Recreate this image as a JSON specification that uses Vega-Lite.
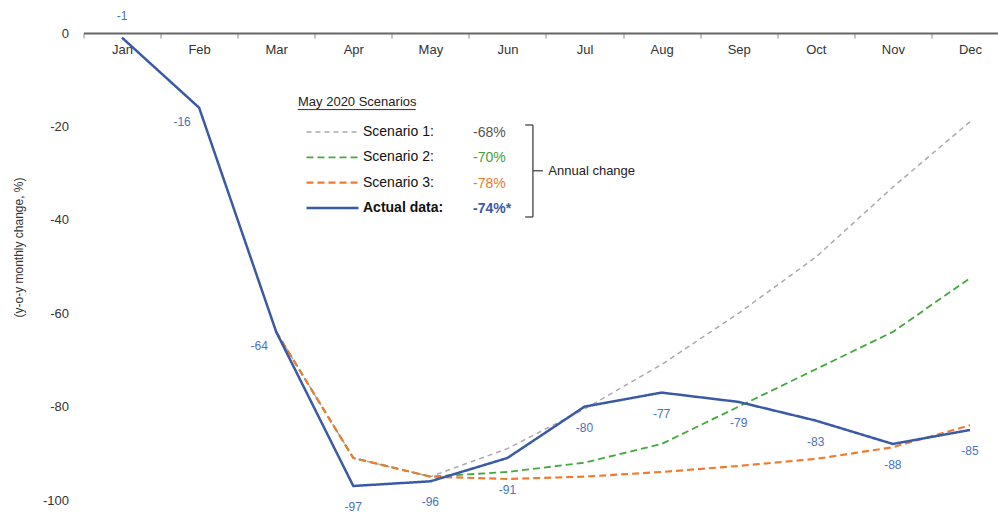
{
  "$schema": "https://vega.github.io/schema/vega-lite/v6.json",
  "width": 914.5,
  "height": 467,
  "autosize": "none",
  "padding": {"left": 83.5, "top": 33, "right": 0, "bottom": 23},
  "background": "white",
  "config": {"font": "Liberation Sans", "view": {"stroke": null}},
  "datasets": {
    "lines": [
      {"month": "Mar", "series": "Scenario 1", "value": -64, "annual": "-68%"},
      {"month": "Apr", "series": "Scenario 1", "value": -91, "annual": "-68%"},
      {"month": "May", "series": "Scenario 1", "value": -95, "annual": "-68%"},
      {"month": "Jun", "series": "Scenario 1", "value": -89, "annual": "-68%"},
      {"month": "Jul", "series": "Scenario 1", "value": -80.5, "annual": "-68%"},
      {"month": "Aug", "series": "Scenario 1", "value": -71, "annual": "-68%"},
      {"month": "Sep", "series": "Scenario 1", "value": -60, "annual": "-68%"},
      {"month": "Oct", "series": "Scenario 1", "value": -48, "annual": "-68%"},
      {"month": "Nov", "series": "Scenario 1", "value": -33, "annual": "-68%"},
      {"month": "Dec", "series": "Scenario 1", "value": -19, "annual": "-68%"},
      {"month": "Mar", "series": "Scenario 2", "value": -64, "annual": "-70%"},
      {"month": "Apr", "series": "Scenario 2", "value": -91, "annual": "-70%"},
      {"month": "May", "series": "Scenario 2", "value": -95, "annual": "-70%"},
      {"month": "Jun", "series": "Scenario 2", "value": -94, "annual": "-70%"},
      {"month": "Jul", "series": "Scenario 2", "value": -92, "annual": "-70%"},
      {"month": "Aug", "series": "Scenario 2", "value": -88, "annual": "-70%"},
      {"month": "Sep", "series": "Scenario 2", "value": -80, "annual": "-70%"},
      {"month": "Oct", "series": "Scenario 2", "value": -72, "annual": "-70%"},
      {"month": "Nov", "series": "Scenario 2", "value": -64, "annual": "-70%"},
      {"month": "Dec", "series": "Scenario 2", "value": -52.5, "annual": "-70%"},
      {"month": "Mar", "series": "Scenario 3", "value": -64, "annual": "-78%"},
      {"month": "Apr", "series": "Scenario 3", "value": -91, "annual": "-78%"},
      {"month": "May", "series": "Scenario 3", "value": -95, "annual": "-78%"},
      {"month": "Jun", "series": "Scenario 3", "value": -95.5, "annual": "-78%"},
      {"month": "Jul", "series": "Scenario 3", "value": -95, "annual": "-78%"},
      {"month": "Aug", "series": "Scenario 3", "value": -94, "annual": "-78%"},
      {"month": "Sep", "series": "Scenario 3", "value": -92.7, "annual": "-78%"},
      {"month": "Oct", "series": "Scenario 3", "value": -91.2, "annual": "-78%"},
      {"month": "Nov", "series": "Scenario 3", "value": -88.7, "annual": "-78%"},
      {"month": "Dec", "series": "Scenario 3", "value": -84, "annual": "-78%"},
      {"month": "Jan", "series": "Actual data", "value": -1, "annual": "-74%*"},
      {"month": "Feb", "series": "Actual data", "value": -16, "annual": "-74%*"},
      {"month": "Mar", "series": "Actual data", "value": -64, "annual": "-74%*"},
      {"month": "Apr", "series": "Actual data", "value": -97, "annual": "-74%*"},
      {"month": "May", "series": "Actual data", "value": -96, "annual": "-74%*"},
      {"month": "Jun", "series": "Actual data", "value": -91, "annual": "-74%*"},
      {"month": "Jul", "series": "Actual data", "value": -80, "annual": "-74%*"},
      {"month": "Aug", "series": "Actual data", "value": -77, "annual": "-74%*"},
      {"month": "Sep", "series": "Actual data", "value": -79, "annual": "-74%*"},
      {"month": "Oct", "series": "Actual data", "value": -83, "annual": "-74%*"},
      {"month": "Nov", "series": "Actual data", "value": -88, "annual": "-74%*"},
      {"month": "Dec", "series": "Actual data", "value": -85, "annual": "-74%*"}
    ]
  },
  "layer": [
    {
      "data": {"name": "lines"},
      "encoding": {
        "x": {
          "field": "month",
          "type": "ordinal",
          "bandPosition": 0.5,
          "scale": {
            "type": "band",
            "domain": ["Jan", "Feb", "Mar", "Apr", "May", "Jun", "Jul", "Aug", "Sep", "Oct", "Nov", "Dec"],
            "range": [0, 925],
            "paddingInner": 0,
            "paddingOuter": 0
          },
          "axis": {
            "orient": "bottom",
            "offset": -467,
            "title": null,
            "labelAngle": 0,
            "domainColor": "#666666",
            "domainWidth": 2,
            "tickColor": "#888888",
            "tickSize": 5,
            "tickBand": "extent",
            "labelFontSize": 13,
            "labelColor": "#333333",
            "labelPadding": 5
          }
        },
        "y": {
          "field": "value",
          "type": "quantitative",
          "scale": {"domain": [-100, 0], "nice": false, "zero": false},
          "axis": {
            "title": "(y-o-y monthly change, %)",
            "values": [0, -20, -40, -60, -80, -100],
            "labelExpr": "replace(datum.label, '\u2212', '-')",
            "domain": false,
            "ticks": false,
            "grid": false,
            "labelPadding": 15,
            "labelFontSize": 13,
            "labelColor": "#333333",
            "titleFontSize": 12,
            "titleFontWeight": "normal",
            "titleColor": "#333333",
            "titleX": -65,
            "titleY": 214,
            "titleBaseline": "middle"
          }
        }
      },
      "layer": [
        {
          "mark": {"type": "line"},
          "encoding": {
            "color": {
              "field": "series",
              "type": "ordinal",
              "scale": {
                "domain": ["Scenario 1", "Scenario 2", "Scenario 3", "Actual data"],
                "range": ["#aaaaaa", "#46a83f", "#f07b2e", "#3a5aa8"]
              },
              "legend": {
                "orient": "none",
                "legendX": 214.5,
                "legendY": 63,
                "title": "May 2020 Scenarios",
                "titleFontSize": 13,
                "titleFontWeight": "normal",
                "titleColor": "#222222",
                "titlePadding": 16,
                "symbolType": "M-5.2,0H5.2",
                "symbolSize": 100,
                "symbolOffset": 27.5,
                "symbolFillColor": "transparent",
                "labelOffset": 23.5,
                "labelFontSize": 14,
                "labelColor": "#111111",
                "rowPadding": 11.3,
                "padding": 0,
                "labelExpr": "datum.label + ':'",
                "encode": {
                  "labels": {
                    "update": {
                      "fontWeight": {"signal": "datum.value === 'Actual data' ? 'bold' : 'normal'"}
                    }
                  }
                }
              }
            },
            "strokeDash": {
              "field": "series",
              "type": "ordinal",
              "scale": {
                "domain": ["Scenario 1", "Scenario 2", "Scenario 3", "Actual data"],
                "range": [[5, 4], [7, 4], [7, 4], [1, 0]]
              }
            },
            "strokeWidth": {
              "field": "series",
              "type": "ordinal",
              "scale": {
                "domain": ["Scenario 1", "Scenario 2", "Scenario 3", "Actual data"],
                "range": [1.5, 2.5, 2.5, 3]
              }
            },
            "opacity": {
              "field": "annual",
              "type": "ordinal",
              "scale": {"domain": ["-68%", "-70%", "-78%", "-74%*"], "range": [1, 1]},
              "legend": {
                "orient": "none",
                "legendX": 375.5,
                "legendY": 93,
                "title": null,
                "symbolOpacity": 0,
                "symbolSize": 0,
                "symbolStrokeWidth": 0,
                "labelOffset": 0,
                "labelFontSize": 14,
                "rowPadding": 11.3,
                "padding": 0,
                "encode": {
                  "labels": {
                    "update": {
                      "fill": {"signal": "datum.value === '-68%' ? '#555555' : datum.value === '-70%' ? '#3f9e38' : datum.value === '-78%' ? '#ee7a2c' : '#3a5aa8'"},
                      "fontWeight": {"signal": "datum.value === '-74%*' ? 'bold' : 'normal'"}
                    }
                  }
                }
              }
            }
          }
        },
        {
          "transform": [{"filter": "datum.series === 'Actual data' && datum.month === 'Jan'"}],
          "mark": {"type": "text", "fontSize": 12, "color": "#4a72c0", "dy": -22},
          "encoding": {"text": {"field": "value", "type": "nominal"}}
        },
        {
          "transform": [{"filter": "datum.series === 'Actual data' && (datum.month === 'Feb' || datum.month === 'Mar')"}],
          "mark": {"type": "text", "fontSize": 12, "color": "#4a72c0", "dx": -17, "dy": 14},
          "encoding": {"text": {"field": "value", "type": "nominal"}}
        },
        {
          "transform": [{"filter": "datum.series === 'Actual data' && datum.month === 'Jun'"}],
          "mark": {"type": "text", "fontSize": 12, "color": "#4a72c0", "dy": 32},
          "encoding": {"text": {"field": "value", "type": "nominal"}}
        },
        {
          "transform": [{"filter": "datum.series === 'Actual data' && indexof(['Apr','May','Jul','Aug','Sep','Oct','Nov','Dec'], datum.month) >= 0"}],
          "mark": {"type": "text", "fontSize": 12, "color": "#4a72c0", "dy": 21},
          "encoding": {"text": {"field": "value", "type": "nominal"}}
        }
      ]
    },
    {
      "data": {"values": [{}]},
      "mark": {"type": "rule", "color": "#333333", "strokeWidth": 1},
      "encoding": {
        "x": {"datum": "Mar", "type": "ordinal", "bandPosition": 0.78},
        "x2": {"datum": "May", "bandPosition": 0.31},
        "y": {"datum": -16.4, "type": "quantitative"}
      }
    },
    {
      "data": {"values": [{}]},
      "mark": {"type": "rule", "color": "#444444", "strokeWidth": 1.3},
      "encoding": {
        "x": {"datum": "Jun", "type": "ordinal", "bandPosition": 0.83},
        "y": {"datum": -19.7, "type": "quantitative"},
        "y2": {"datum": -39.4}
      }
    },
    {
      "data": {"values": [{}]},
      "mark": {"type": "rule", "color": "#444444", "strokeWidth": 1.3},
      "encoding": {
        "x": {"datum": "Jun", "type": "ordinal", "bandPosition": 0.73},
        "x2": {"datum": "Jun", "bandPosition": 0.83},
        "y": {"datum": -19.7, "type": "quantitative"}
      }
    },
    {
      "data": {"values": [{}]},
      "mark": {"type": "rule", "color": "#444444", "strokeWidth": 1.3},
      "encoding": {
        "x": {"datum": "Jun", "type": "ordinal", "bandPosition": 0.73},
        "x2": {"datum": "Jun", "bandPosition": 0.83},
        "y": {"datum": -39.4, "type": "quantitative"}
      }
    },
    {
      "data": {"values": [{}]},
      "mark": {"type": "rule", "color": "#444444", "strokeWidth": 1.3},
      "encoding": {
        "x": {"datum": "Jun", "type": "ordinal", "bandPosition": 0.83},
        "x2": {"datum": "Jun", "bandPosition": 0.96},
        "y": {"datum": -29.5, "type": "quantitative"}
      }
    },
    {
      "data": {"values": [{}]},
      "mark": {"type": "text", "text": "Annual change", "fontSize": 13, "color": "#222222", "align": "left", "baseline": "middle"},
      "encoding": {
        "x": {"datum": "Jul", "type": "ordinal", "bandPosition": 0.03},
        "y": {"datum": -29.5, "type": "quantitative"}
      }
    }
  ]
}
